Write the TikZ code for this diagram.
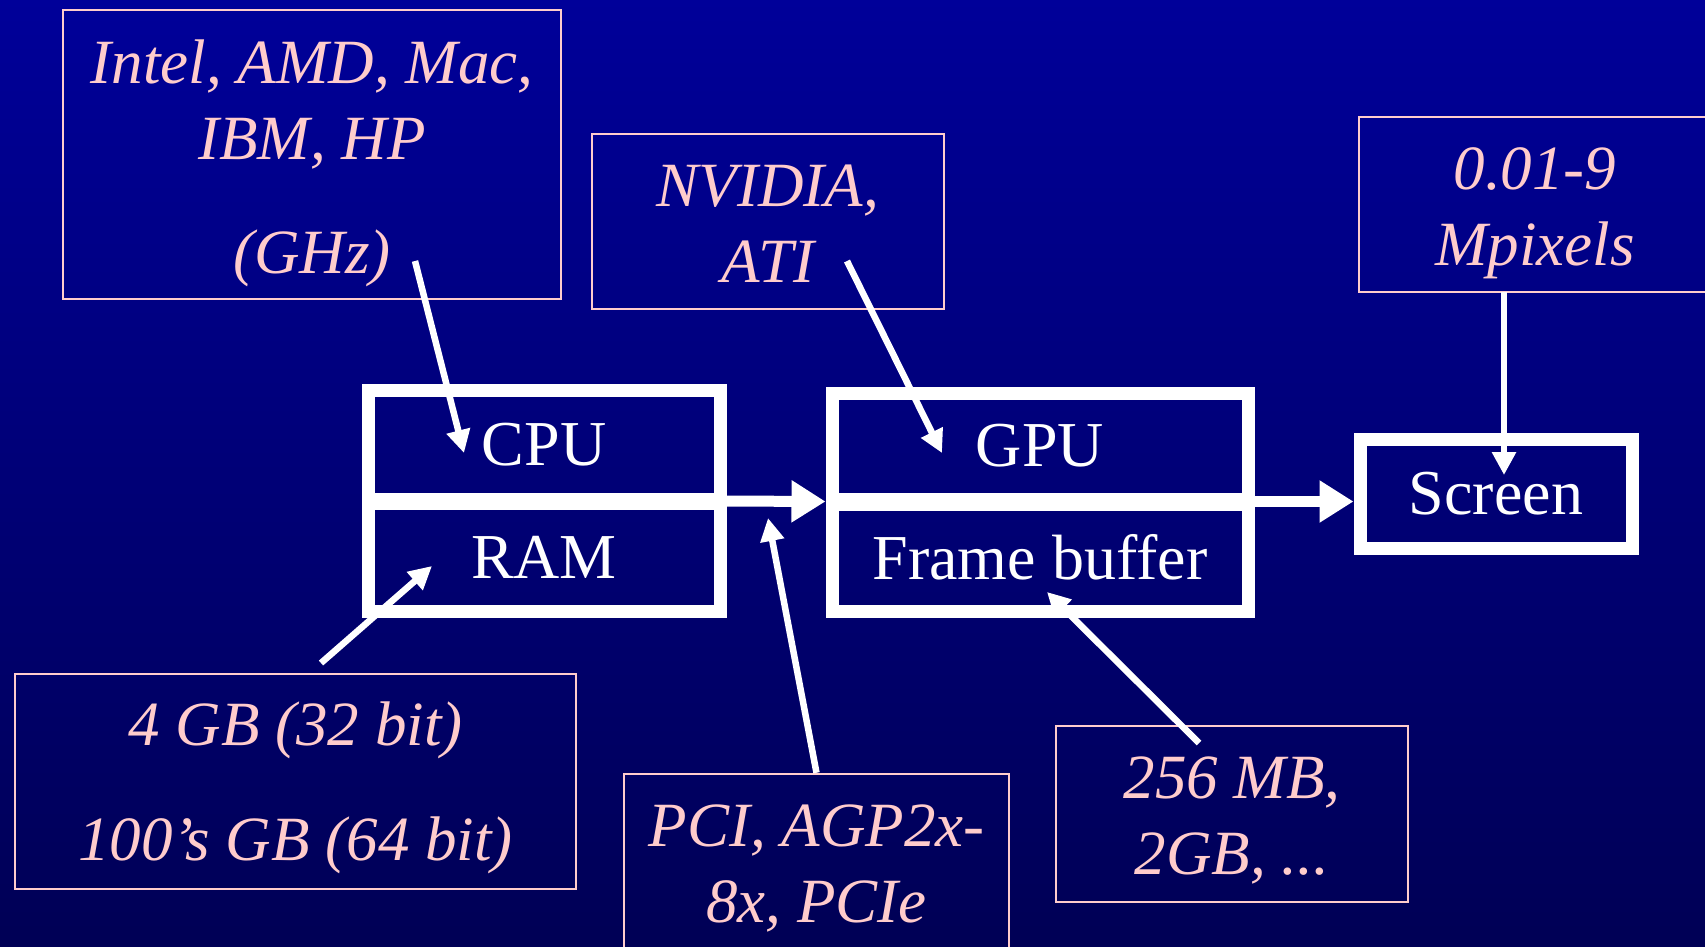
\documentclass[tikz,border=0pt]{standalone}
\usepackage{fontspec}
\setmainfont{Liberation Serif}
\usetikzlibrary{arrows.meta,calc}

\definecolor{slidetop}{RGB}{0,0,153}
\definecolor{slidebot}{RGB}{0,0,85}
\definecolor{salmon}{RGB}{255,204,204}

\tikzset{
  unit/.style={draw=white,line width=13pt,minimum width=352pt,text=white,
    font=\fontsize{64}{76}\selectfont},
  note/.style={draw=salmon,line width=2.5pt,inner sep=0pt},
  % the text of a note sits a little below the middle of its box
  memo/.style={text=salmon,align=center,inner sep=0pt,yshift=-#1,
    font=\fontsize{63}{76}\selectfont\itshape},
  bus/.style={white,line width=11pt,-{Triangle[length=34pt,width=40pt]}},
  feed/.style={white,line width=6.5pt,-{Triangle[length=23pt,width=23pt]}},
}

\begin{document}
\begin{tikzpicture}[x=1pt,y=-1pt]
    \shade[top color=slidetop,bottom color=slidebot] (0,0) rectangle (1705,946);
    \useasboundingbox (0,0) rectangle (1705,946);

    % host and graphics card
    \node[unit,minimum height=109pt] (cpu) at (544,444.5) {CPU};
    \node[unit,minimum height=108pt] (ram) at (544,557) {RAM};
    \node[unit,minimum width=416pt,minimum height=106pt] (gpu) at (1040,446) {GPU};
    \node[unit,minimum width=416pt,minimum height=107pt] (fb) at (1040,557.5) {Frame buffer};
    \node[unit,minimum width=272pt,minimum height=109pt] (screen) at (1496,494) {Screen};

    % notes
    \node[note,minimum width=498pt,minimum height=289pt,
        label={[memo=9pt]center:{Intel, AMD, Mac,\\IBM, HP\\[38pt](GHz)}}] (chips) at (312,154.5) {};
    \node[note,minimum width=352pt,minimum height=175pt,
        label={[memo=2pt]center:{NVIDIA,\\ATI}}] (vendors) at (768,221.5) {};
    \node[note,minimum width=352pt,minimum height=175pt,
        label={[memo=9pt]center:{0.01-9\\Mpixels}}] (pixels) at (1535,204.5) {};
    \node[note,minimum width=561pt,minimum height=215pt,
        label={[memo=6pt]center:{4 GB (32 bit)\\[39pt]100’s GB (64 bit)}}] (memsize) at (295.5,781.5) {};
    \node[note,minimum width=385pt,minimum height=175pt,
        label={[memo=7pt]center:{PCI, AGP2x-\\8x, PCIe}}] (slots) at (816.5,861.5) {};
    \node[note,minimum width=352pt,minimum height=176pt,
        label={[memo=6pt]center:{256 MB,\\2GB, ...}}] (vram) at (1232,814) {};

    % buses
    \coordinate (hostbus) at ($(cpu.south east)!0.5!(ram.north east)$);
    \coordinate (cardbus) at ($(gpu.south east)!0.5!(fb.north east)$);
    \draw[bus] (hostbus) -- ($(gpu.south west)!0.5!(fb.north west)$);
    \draw[bus] (cardbus) -- (cardbus -| screen.west);

    % pointers from the notes
    \coordinate (ghz) at (415,261);      \coordinate (cpu tip) at (464,453);
    \coordinate (ati) at (847,261);      \coordinate (gpu tip) at (942,453);
    \coordinate (mpix) at (1504,292);    \coordinate (screen tip) at (1504,475);
    \coordinate (gb) at (321,663);       \coordinate (ram tip) at (432,566);
    \coordinate (bus tip) at (768,518);
    \coordinate (mb) at (1199,743);      \coordinate (fb tip) at (1047,592);
    \draw[feed] (ghz) -- (cpu tip);
    \draw[feed] (ati) -- (gpu tip);
    \draw[feed] (mpix) -- (screen tip);
    \draw[feed] (gb) -- (ram tip);
    \draw[feed] (slots.north) -- (bus tip);
    \draw[feed] (mb) -- (fb tip);
\end{tikzpicture}
\end{document}
